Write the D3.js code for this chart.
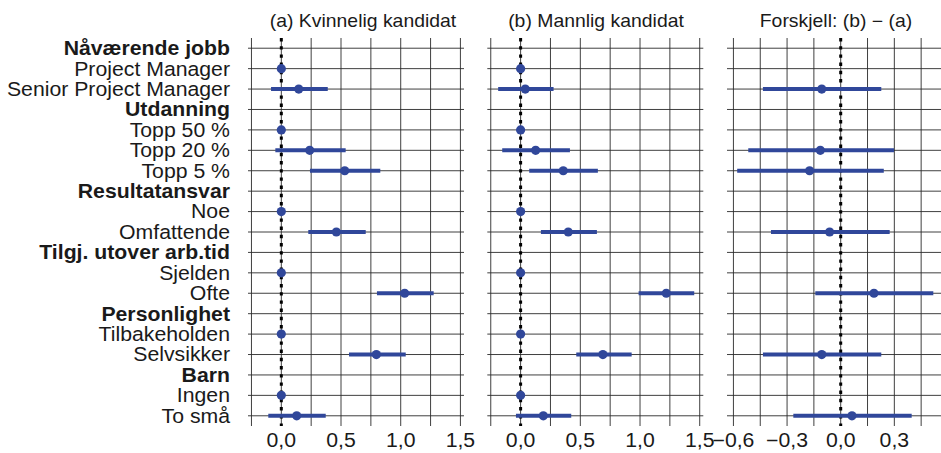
<!DOCTYPE html>
<html><head><meta charset="utf-8">
<script src="https://cdn.jsdelivr.net/npm/d3@7"></script>
<style>body{margin:0;background:#fff}svg{display:block}text{font-family:"Liberation Sans",Arial,sans-serif;fill:#1a1a1a}</style>
</head><body><svg id="c" width="941" height="453"></svg>
<script>
const categories = ["Nåværende jobb","Project Manager","Senior Project Manager","Utdanning","Topp 50 %","Topp 20 %","Topp 5 %","Resultatansvar","Noe","Omfattende","Tilgj. utover arb.tid","Sjelden","Ofte","Personlighet","Tilbakeholden","Selvsikker","Barn","Ingen","To små"];
const headers = ["Nåværende jobb","Utdanning","Resultatansvar","Tilgj. utover arb.tid","Personlighet","Barn"];
const referenceLevels = ["Project Manager","Topp 50 %","Noe","Sjelden","Tilbakeholden","Ingen"];
const panelTitles = ["(a) Kvinnelig kandidat","(b) Mannlig kandidat","Forskjell: (b) − (a)"];
// estimates [category, estimate, low, high]
const womenEst = [["Senior Project Manager",0.146,-0.086,0.389],["Topp 20 %",0.238,-0.050,0.539],["Topp 5 %",0.531,0.240,0.829],["Omfattende",0.461,0.226,0.707],["Ofte",1.033,0.801,1.276],["Selvsikker",0.796,0.567,1.042],["To små",0.129,-0.109,0.372]];
const menEst = [["Senior Project Manager",0.039,-0.188,0.276],["Topp 20 %",0.126,-0.154,0.413],["Topp 5 %",0.357,0.072,0.647],["Omfattende",0.399,0.170,0.639],["Ofte",1.220,0.988,1.454],["Selvsikker",0.689,0.466,0.930],["To små",0.190,-0.039,0.424]];
const diffEst = [["Senior Project Manager",-0.106,-0.435,0.227],["Topp 20 %",-0.114,-0.517,0.298],["Topp 5 %",-0.174,-0.579,0.241],["Omfattende",-0.062,-0.390,0.274],["Ofte",0.186,-0.142,0.518],["Selvsikker",-0.106,-0.435,0.227],["To små",0.063,-0.265,0.397]];
const ticksAB = [0,0.5,1.0,1.5];
const gridAB = [-0.25,0,0.25,0.5,0.75,1.0,1.25,1.5];
const ticksC = [-0.6,-0.3,0,0.3];
const gridC = [-0.6,-0.45,-0.3,-0.15,0,0.15,0.3,0.45];

const svg = d3.select("#c");
const blue = "#30479a";
const SX = 1.09;
const y = d3.scalePoint().domain(categories).range([38,426]).padding(0.5);
const fmt = v => (v<0?"−":"") + Math.abs(v).toFixed(1).replace(".",",");

const panels = [
  {x: d3.scaleLinear().domain([-0.279,1.530]).range([248,464]), data: womenEst, refs: true, ticks: ticksAB, grid: gridAB, title: panelTitles[0], tx: 363},
  {x: d3.scaleLinear().domain([-0.279,1.530]).range([487.3,703.3]), data: menEst, refs: true, ticks: ticksAB, grid: gridAB, title: panelTitles[1], tx: 596},
  {x: d3.scaleLinear().domain([-0.636,0.561]).range([727,941]), data: diffEst, refs: false, ticks: ticksC, grid: gridC, title: panelTitles[2], tx: 836}
];

// y labels
svg.append("g").selectAll("text").data(categories).join("text")
  .attr("transform", d => `translate(230,${y(d)+6.9}) scale(${SX},1)`)
  .attr("text-anchor","end").style("font-size","19.5px")
  .style("font-weight", d => headers.includes(d) ? "bold" : "normal")
  .text(d => d);

panels.forEach(p => {
  const g = svg.append("g");
  const [x0,x1] = p.x.range();
  g.selectAll(".hg").data(categories).join("line")
    .attr("x1",x0).attr("x2",x1).attr("y1",d=>y(d)).attr("y2",d=>y(d))
    .attr("stroke","#2a2a2a").attr("stroke-width",0.9);
  g.selectAll(".vg").data(p.grid).join("line")
    .attr("x1",d=>p.x(d)).attr("x2",d=>p.x(d)).attr("y1",38).attr("y2",426)
    .attr("stroke","#2a2a2a").attr("stroke-width",0.9);
  g.append("line").attr("x1",p.x(0)).attr("x2",p.x(0)).attr("y1",38).attr("y2",426)
    .attr("stroke","#000").attr("stroke-width",3).attr("stroke-dasharray","3.4 4.8");
  g.selectAll(".eb").data(p.data).join("line")
    .attr("x1",d=>p.x(d[2])).attr("x2",d=>p.x(d[3])).attr("y1",d=>y(d[0])).attr("y2",d=>y(d[0]))
    .attr("stroke",blue).attr("stroke-width",4);
  const pts = p.data.map(d=>[d[0],d[1]]).concat(p.refs ? referenceLevels.map(r=>[r,0]) : []);
  g.selectAll(".pt").data(pts).join("circle")
    .attr("cx",d=>p.x(d[1])).attr("cy",d=>y(d[0])).attr("r",4.6).attr("fill",blue);
  g.selectAll(".tl").data(p.ticks).join("text")
    .attr("transform", d => `translate(${p.x(d)},447) scale(${SX},1)`)
    .attr("text-anchor","middle").style("font-size","19.5px").text(fmt);
  g.append("text").attr("transform",`translate(${p.tx},27) scale(${SX},1)`)
    .attr("text-anchor","middle").style("font-size","17.8px").text(p.title);
});
</script></body></html>
